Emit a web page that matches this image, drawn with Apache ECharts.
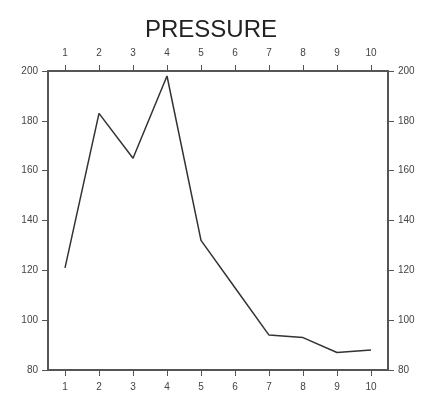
<!DOCTYPE html>
<html lang="en">
<head>
    <meta charset="UTF-8">
    <title>PRESSURE</title>
    <script src="https://cdn.jsdelivr.net/npm/echarts@6/dist/echarts.min.js"></script>
    <style>
        html, body { margin: 0; padding: 0; background: #fff; }
        #main { width: 422px; height: 400px; }
    </style>
</head>
<body>
<div id="main"></div>
<script>
    // x positions (categories) and pressure readings
    var steps = ['1', '2', '3', '4', '5', '6', '7', '8', '9', '10'];
    var pressure = [121, 183, 165, 198, 132, 113, 94, 93, 87, 88];
    var yMin = 80, yMax = 200, yStep = 20;

    var axisColor = '#555';
    var labelStyle = { color: '#444', fontSize: 10, fontFamily: 'Liberation Sans, Arial, sans-serif' };

    function catAxis(pos) {
        return {
            type: 'category',
            position: pos,
            data: steps,
            boundaryGap: true,
            axisLine: { show: true, lineStyle: { color: axisColor, width: 2 } },
            axisTick: { show: true, alignWithLabel: true, length: 6, inside: false, lineStyle: { color: axisColor } },
            axisLabel: Object.assign({ margin: pos === 'top' ? 13 : 12 }, labelStyle),
            splitLine: { show: false }
        };
    }

    function valAxis(pos) {
        return {
            type: 'value',
            position: pos,
            min: yMin,
            max: yMax,
            interval: yStep,
            axisLine: { show: true, lineStyle: { color: axisColor, width: 2 } },
            axisTick: { show: true, length: 6, inside: false, lineStyle: { color: axisColor } },
            axisLabel: Object.assign({ margin: 10 }, labelStyle),
            splitLine: { show: false }
        };
    }

    var chart = echarts.init(document.getElementById('main'));
    var option = {
        backgroundColor: '#fff',
        animation: false,
        title: {
            text: 'PRESSURE',
            left: 'center',
            top: 13,
            textStyle: { fontSize: 24, fontWeight: 'normal', color: '#222', fontFamily: 'Liberation Sans, Arial, sans-serif' }
        },
        grid: { left: 48, right: 34, top: 71, bottom: 30 },
        xAxis: [catAxis('bottom'), catAxis('top')],
        yAxis: [valAxis('left'), valAxis('right')],
        series: [
            {
                name: 'pressure',
                type: 'line',
                xAxisIndex: 0,
                yAxisIndex: 0,
                data: pressure,
                symbol: 'none',
                lineStyle: { color: '#333', width: 1.5 }
            }
        ]
    };
    chart.setOption(option);
</script>
</body>
</html>
